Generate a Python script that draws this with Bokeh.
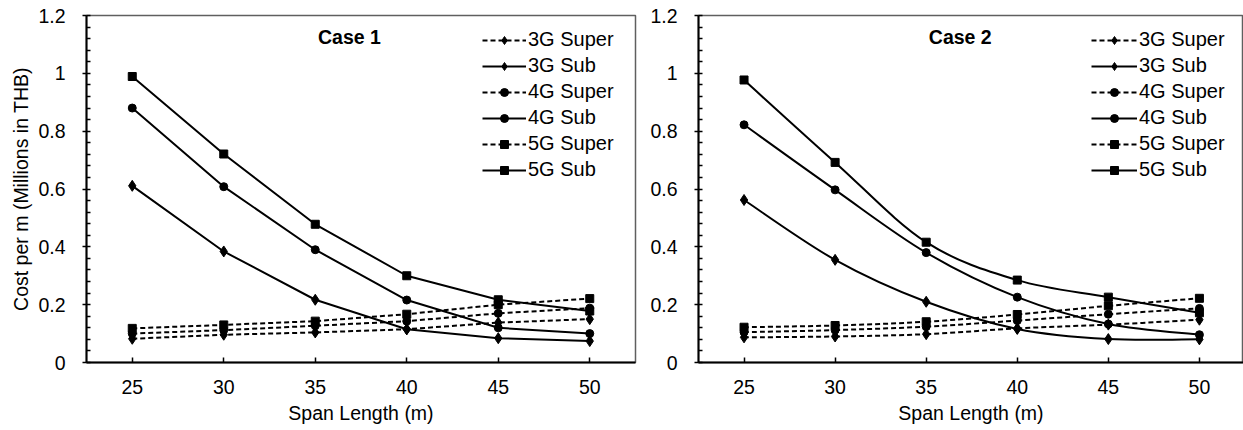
from bokeh.plotting import figure
from bokeh.models import (Range1d, Legend, LegendItem, Label, FixedTicker,
                          CustomJSTickFormatter, ColumnDataSource)
from bokeh.layouts import row
from bokeh.embed import file_html
from bokeh.resources import INLINE

# ---------------- data ----------------
span = [25, 30, 35, 40, 45, 50]
y_ticks = [0, 0.2, 0.4, 0.6, 0.8, 1.0, 1.2]
y_minor = [round(i * 0.04, 2) for i in range(31)]
series_names = ["3G Super", "3G Sub", "4G Super", "4G Sub", "5G Super", "5G Sub"]

case1_3g_super = [0.082, 0.096, 0.104, 0.115, 0.138, 0.150]
case1_3g_sub = [0.611, 0.384, 0.217, 0.115, 0.084, 0.074]
case1_4g_super = [0.100, 0.112, 0.127, 0.143, 0.170, 0.188]
case1_4g_sub = [0.880, 0.608, 0.390, 0.216, 0.120, 0.100]
case1_5g_super = [0.118, 0.130, 0.143, 0.167, 0.200, 0.221]
case1_5g_sub = [0.989, 0.721, 0.478, 0.300, 0.217, 0.178]

case2_3g_super = [0.087, 0.090, 0.098, 0.118, 0.131, 0.148]
case2_3g_sub = [0.562, 0.355, 0.210, 0.116, 0.081, 0.080]
case2_4g_super = [0.105, 0.112, 0.124, 0.145, 0.167, 0.187]
case2_4g_sub = [0.822, 0.597, 0.380, 0.226, 0.133, 0.096]
case2_5g_super = [0.122, 0.128, 0.141, 0.166, 0.196, 0.222]
case2_5g_sub = [0.977, 0.692, 0.416, 0.285, 0.226, 0.172]

case1 = [case1_3g_super, case1_3g_sub, case1_4g_super, case1_4g_sub, case1_5g_super, case1_5g_sub]
case2 = [case2_3g_super, case2_3g_sub, case2_4g_super, case2_4g_sub, case2_5g_super, case2_5g_sub]

markers = ["diamond", "diamond", "circle", "circle", "square", "square"]
marker_sizes = [11, 11, 8, 8, 8, 8]
dashes = ["5 3", "solid", "5 3", "solid", "5 3", "solid"]

FONT = "Liberation Sans"
FS = "19.5px"


def smooth_segments(xs, ys):
    """Bezier control points (Excel-like smoothing) through the data points."""
    n = len(xs)
    d = dict(x0=[], y0=[], x1=[], y1=[], cx0=[], cy0=[], cx1=[], cy1=[])
    for i in range(n - 1):
        pm = i - 1 if i > 0 else i
        pp = i + 2 if i + 2 < n else i + 1
        d["x0"].append(xs[i]); d["y0"].append(ys[i])
        d["x1"].append(xs[i + 1]); d["y1"].append(ys[i + 1])
        d["cx0"].append(xs[i] + (xs[i + 1] - xs[pm]) / 6.0)
        d["cy0"].append(ys[i] + (ys[i + 1] - ys[pm]) / 6.0)
        d["cx1"].append(xs[i + 1] - (xs[pp] - xs[i]) / 6.0)
        d["cy1"].append(ys[i + 1] - (ys[pp] - ys[i]) / 6.0)
    return d


def make_fig(width, border_left, border_right, x_end, values, title, smooth,
             legend_x, glyph_w, show_ylabel):
    p = figure(width=width, height=430, output_backend="svg", toolbar_location=None,
               x_range=Range1d(22.5, x_end), y_range=Range1d(0, 1.2),
               min_border_left=border_left, min_border_right=border_right,
               min_border_top=15, min_border_bottom=68)
    p.xgrid.visible = False
    p.ygrid.visible = False
    p.outline_line_color = "#5f5f5f"
    p.outline_line_width = 1.5
    p.background_fill_color = "white"
    p.border_fill_color = "white"

    xa = p.xaxis[0]
    xa.ticker = FixedTicker(ticks=span)
    xa.axis_label = "Span Length (m)"
    xa.major_tick_in = 5
    xa.major_tick_out = 0
    xa.major_label_standoff = 17
    xa.axis_label_standoff = 5
    ya = p.yaxis[0]
    ya.ticker = FixedTicker(ticks=y_ticks, minor_ticks=y_minor)
    ya.formatter = CustomJSTickFormatter(code="return String(Math.round(tick*10)/10)")
    ya.major_tick_in = 0
    ya.major_tick_out = 4
    ya.minor_tick_in = 4
    ya.minor_tick_out = 0
    ya.major_label_standoff = 17
    ya.axis_label_standoff = 3
    if show_ylabel:
        ya.axis_label = "Cost per m (Millions in THB)"
    for ax in (xa, ya):
        ax.axis_line_color = "black"
        ax.axis_line_width = 2
        ax.major_tick_line_color = "black"
        ax.major_tick_line_width = 1.5
        ax.minor_tick_line_color = "black" if ax is ya else None
        ax.minor_tick_line_width = 1.5
        ax.major_label_text_font = FONT
        ax.major_label_text_font_size = FS
        ax.major_label_text_color = "black"
        ax.axis_label_text_font = FONT
        ax.axis_label_text_font_size = FS
        ax.axis_label_text_font_style = "normal"
        ax.axis_label_text_color = "black"

    items = []
    for name, vals, mk, ms, dash in zip(series_names, values, markers, marker_sizes, dashes):
        if smooth:
            src = ColumnDataSource(smooth_segments(span, vals))
            lr = p.bezier(x0="x0", y0="y0", x1="x1", y1="y1", cx0="cx0", cy0="cy0",
                          cx1="cx1", cy1="cy1", source=src, line_color="black",
                          line_width=2, line_dash=dash)
        else:
            lr = p.line(span, vals, line_color="black", line_width=2, line_dash=dash)
        sr = p.scatter(span, vals, marker=mk, size=ms, fill_color="black",
                       line_color="black")
        items.append(LegendItem(label=name, renderers=[lr, sr]))

    legend = Legend(items=items, location=(legend_x, 181), padding=0, margin=0,
                    border_line_color=None, background_fill_alpha=0,
                    glyph_width=glyph_w, glyph_height=20, label_height=20,
                    spacing=3, label_standoff=2,
                    label_text_font=FONT, label_text_font_size="20px",
                    label_text_color="black")
    p.add_layout(legend, "center")

    p.add_layout(Label(x=36.87, y=1.125, text=title, text_align="center",
                       text_baseline="middle", text_font=FONT, text_font_size=FS,
                       text_font_style="bold", text_color="black"))
    return p


p1 = make_fig(640, 86, 5, 52.5, case1, "Case 1", False, 396, 44, True)
p2 = make_fig(603, 58, 0, 52.42, case2, "Case 2", True, 393, 46, False)

layout = row(p1, p2, spacing=0)
open("out.html", "w").write(file_html(layout, INLINE))
